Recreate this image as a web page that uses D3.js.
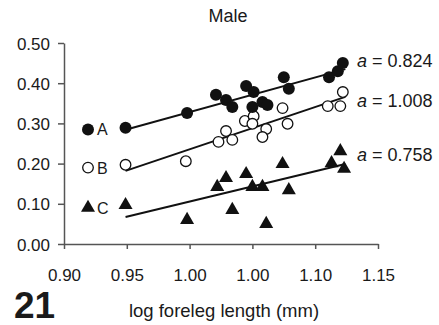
<!DOCTYPE html>
<html><head><meta charset="utf-8">
<script src="https://cdn.jsdelivr.net/npm/d3@7/dist/d3.min.js"></script>
<style>
body{margin:0;background:#fff;}
svg text{font-family:"Liberation Sans",Arial,sans-serif;fill:#1a1a1a;}
</style></head>
<body><svg id="c" width="439" height="325"></svg>
<script>
// Series A (filled circles)
const seriesA_x = [0.949,0.998,1.021,1.029,1.034,1.045,1.051,1.050,1.058,1.062,1.075,1.079,1.111,1.118,1.122];
const seriesA_y = [0.289,0.326,0.371,0.358,0.341,0.393,0.378,0.341,0.353,0.346,0.415,0.386,0.415,0.430,0.450];
// Series B (open circles)
const seriesB_x = [0.949,0.997,1.023,1.029,1.034,1.044,1.051,1.050,1.061,1.058,1.074,1.078,1.110,1.120,1.122];
const seriesB_y = [0.197,0.206,0.254,0.281,0.259,0.306,0.318,0.299,0.286,0.266,0.338,0.299,0.343,0.343,0.378];
// Series C (triangles)
const seriesC_x = [0.949,0.998,1.022,1.029,1.034,1.045,1.050,1.058,1.061,1.074,1.079,1.113,1.120,1.123];
const seriesC_y = [0.097,0.060,0.142,0.164,0.085,0.174,0.142,0.142,0.050,0.199,0.134,0.201,0.231,0.187];
// Regression lines [x0,y0,x1,y1]
const lineA = [0.949,0.284,1.124,0.435];
const lineB = [0.949,0.182,1.124,0.366];
const lineC = [0.949,0.067,1.124,0.199];
const slopeLabels = ["0.824","1.008","0.758"];
const slopeLabelY = [0.455,0.355,0.222];
const legendNames = ["A","B","C"];
const legendY = [0.285,0.19,0.09];
const xTickValues = [0.90,0.95,1.00,1.05,1.10,1.15];
const xTickLabels = ["0.90","0.95","1.00","1.00","1.10","1.15"];
const yTickValues = [0,0.1,0.2,0.3,0.4,0.5];
const yTickLabels = ["0.00","0.10","0.20","0.30","0.40","0.50"];

const svg = d3.select("#c");
const x = d3.scaleLinear().domain([0.90,1.15]).range([64,378]);
const y = d3.scaleLinear().domain([0,0.5]).range([244,43]);
const axisColor = "#555";

const gx = svg.append("g").attr("transform","translate(0,244)")
  .call(d3.axisBottom(x).tickValues(xTickValues).tickSize(5).tickSizeOuter(0)
    .tickFormat((d,i)=>xTickLabels[i]));
const gy = svg.append("g").attr("transform","translate(64,0)")
  .call(d3.axisLeft(y).tickValues(yTickValues).tickSize(6).tickSizeOuter(0)
    .tickFormat((d,i)=>yTickLabels[i]));
[gx,gy].forEach(g=>{
  g.select(".domain").attr("stroke",axisColor).attr("stroke-width",1.5);
  g.selectAll(".tick line").attr("stroke",axisColor).attr("stroke-width",1.5);
  g.selectAll(".tick text").attr("fill","#1a1a1a").style("font-size","17px").style("font-family","Liberation Sans, Arial, sans-serif");
});
gx.selectAll(".tick text").attr("dy",0).attr("y",37);
gy.selectAll(".tick text").attr("x",-14).attr("dy","0.36em");

// regression lines
[lineA,lineB,lineC].forEach(l=>{
  svg.append("line").attr("x1",x(l[0])).attr("y1",y(l[1])).attr("x2",x(l[2])).attr("y2",y(l[3]))
    .attr("stroke","#111").attr("stroke-width",2);
});

const r = 6;
const tri = d3.symbol().type(d3.symbolTriangle).size(85);
function drawA(g,cx,cy){ g.append("circle").attr("cx",cx).attr("cy",cy).attr("r",r).attr("fill","#111"); }
function drawB(g,cx,cy){ g.append("circle").attr("cx",cx).attr("cy",cy).attr("r",r-0.7).attr("fill","#fff").attr("stroke","#111").attr("stroke-width",1.3); }
function drawC(g,cx,cy){ g.append("path").attr("d",tri()).attr("transform",`translate(${cx},${cy})`).attr("fill","#111"); }

const gp = svg.append("g");
seriesC_x.forEach((v,i)=>drawC(gp,x(v),y(seriesC_y[i])));
seriesB_x.forEach((v,i)=>drawB(gp,x(v),y(seriesB_y[i])));
seriesA_x.forEach((v,i)=>drawA(gp,x(v),y(seriesA_y[i])));

// legend
const drawers=[drawA,drawB,drawC];
legendNames.forEach((n,i)=>{
  const cy=y(legendY[i]);
  drawers[i](svg,88,cy);
  svg.append("text").attr("x",97).attr("y",cy+6).style("font-size","16px").text(n);
});

// slope labels
slopeLabels.forEach((s,i)=>{
  const t=svg.append("text").attr("x",357).attr("y",y(slopeLabelY[i])+6).style("font-size","18px");
  t.append("tspan").style("font-style","italic").text("a");
  t.append("tspan").text(" = "+s);
});

// title
svg.append("text").attr("x",228).attr("y",22).attr("text-anchor","middle").style("font-size","18px").text("Male");
// x axis title
svg.append("text").attr("x",224).attr("y",317).attr("text-anchor","middle").style("font-size","18.5px").text("log foreleg length (mm)");
// panel number
svg.append("text").attr("x",14).attr("y",318).style("font-size","37px").style("font-weight","bold").text("21");
</script></body></html>
